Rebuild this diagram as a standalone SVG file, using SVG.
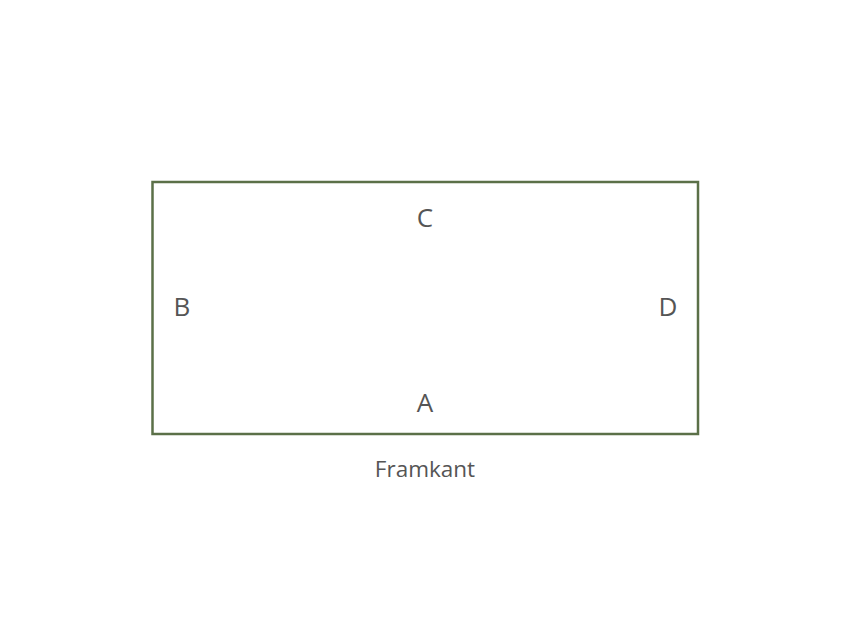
<svg xmlns="http://www.w3.org/2000/svg" width="850" height="637" viewBox="0 0 850 637">
<style>
.t{font-family:"Open Sans","Noto Sans","DejaVu Sans",sans-serif;fill:#555555;text-anchor:middle}
.l{font-size:26px}
.f{font-size:22.5px}
</style>
<rect width="850" height="637" fill="#ffffff"/>
<g id="plan">
<rect x="152.5" y="182" width="545.5" height="252" fill="none" stroke="#5b7048" stroke-width="2.5"/>
</g>
<g id="label-C"><text class="t l" x="425" y="227">C</text></g>
<g id="label-B"><text class="t l" x="182" y="316">B</text></g>
<g id="label-D"><text class="t l" x="668" y="316">D</text></g>
<g id="label-A"><text class="t l" x="425" y="412">A</text></g>
<g id="label-framkant"><text class="t f" x="425" y="477">Framkant</text></g>
</svg>
